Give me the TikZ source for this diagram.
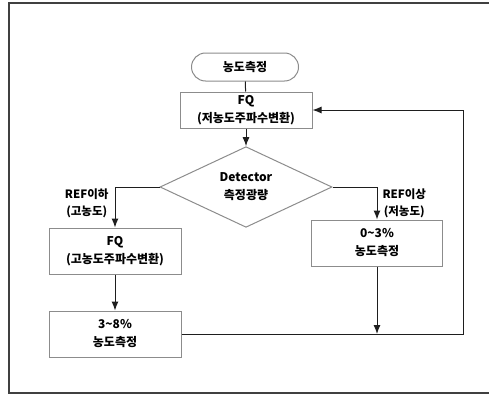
\documentclass[tikz,border=0pt]{standalone}
\usepackage{fontspec}
\setmainfont{Noto Sans CJK KR}
\usepackage{tikz}
\usetikzlibrary{positioning,arrows.meta,shapes.geometric}
\definecolor{boxcolor}{RGB}{140,140,140}
\definecolor{linecolor}{RGB}{30,30,30}
\tikzset{
    frame/.style={draw=black!75, line width=2pt},
    terminal/.style={rectangle, rounded corners=14pt, draw=boxcolor, line width=1pt, minimum width=107pt, minimum height=28pt, inner sep=0pt},
    process/.style={rectangle, draw=boxcolor, line width=1pt, minimum width=132pt, minimum height=46pt, inner sep=0pt, align=center},
    decision/.style={diamond, draw=boxcolor, line width=1pt, minimum width=172pt, minimum height=71pt, inner sep=0pt, align=center},
    branch label/.style={align=center, font=\fontsize{11.5}{17}\selectfont\bfseries},
    flow/.style={-{Latex[length=9pt,width=7pt]}, line width=1pt, linecolor},
    plain line/.style={-, line width=1pt, linecolor}
}

\begin{document}
\begin{tikzpicture}[x=1pt, y=-1pt, every node/.style={font=\fontsize{12}{18}\selectfont\bfseries}]
    \useasboundingbox (0,0) rectangle (489,396);

    % Outer frame
    \draw[frame] (494,3) -- (8.5,3) -- (8.5,393) -- (494,393);

    % Start
    \node[terminal] (start) at (245,67) {농도측정};

    % Low concentration frequency conversion
    \node[process, minimum height=36pt] (fqlow) at (246,110) {FQ\\(저농도주파수변환)};

    % Detector decision
    \node[decision] (det) at (246,187) {Detector\\측정광량};

    % Left branch - high concentration
    \node[process] (fqhigh) at (115,251) {FQ\\(고농도주파수변환)};
    \node[process] (highmeas) at (115,334) {3\textasciitilde8\%\\농도측정};

    % Right branch - low concentration
    \node[process, minimum width=131pt] (lowmeas) at (377,243) {0\textasciitilde3\%\\농도측정};

    % Branch labels
    \node[branch label, anchor=east] (lblhigh) at (112,203) {REF이하\\(고농도)};
    \node[branch label, anchor=west] (lbllow) at (379,203) {REF이상\\(저농도)};

    % Return path
    \coordinate (loopR) at (463,0);
    \coordinate (join) at (lowmeas.south |- highmeas.east);

    % Connections
    \draw[plain line] (start) -- (fqlow);
    \draw[flow] (fqlow) -- (det);
    \draw[flow] (det.west) -| (fqhigh.north);
    \draw[flow] (det.east) -| (lowmeas.north);
    \draw[flow] (fqhigh) -- (highmeas);
    \draw[flow] (lowmeas.south) -- (join);
    \draw[flow] (highmeas.east) -- (loopR |- highmeas.east) -- (loopR |- fqlow.east) -- (fqlow.east);
\end{tikzpicture}
\end{document}
